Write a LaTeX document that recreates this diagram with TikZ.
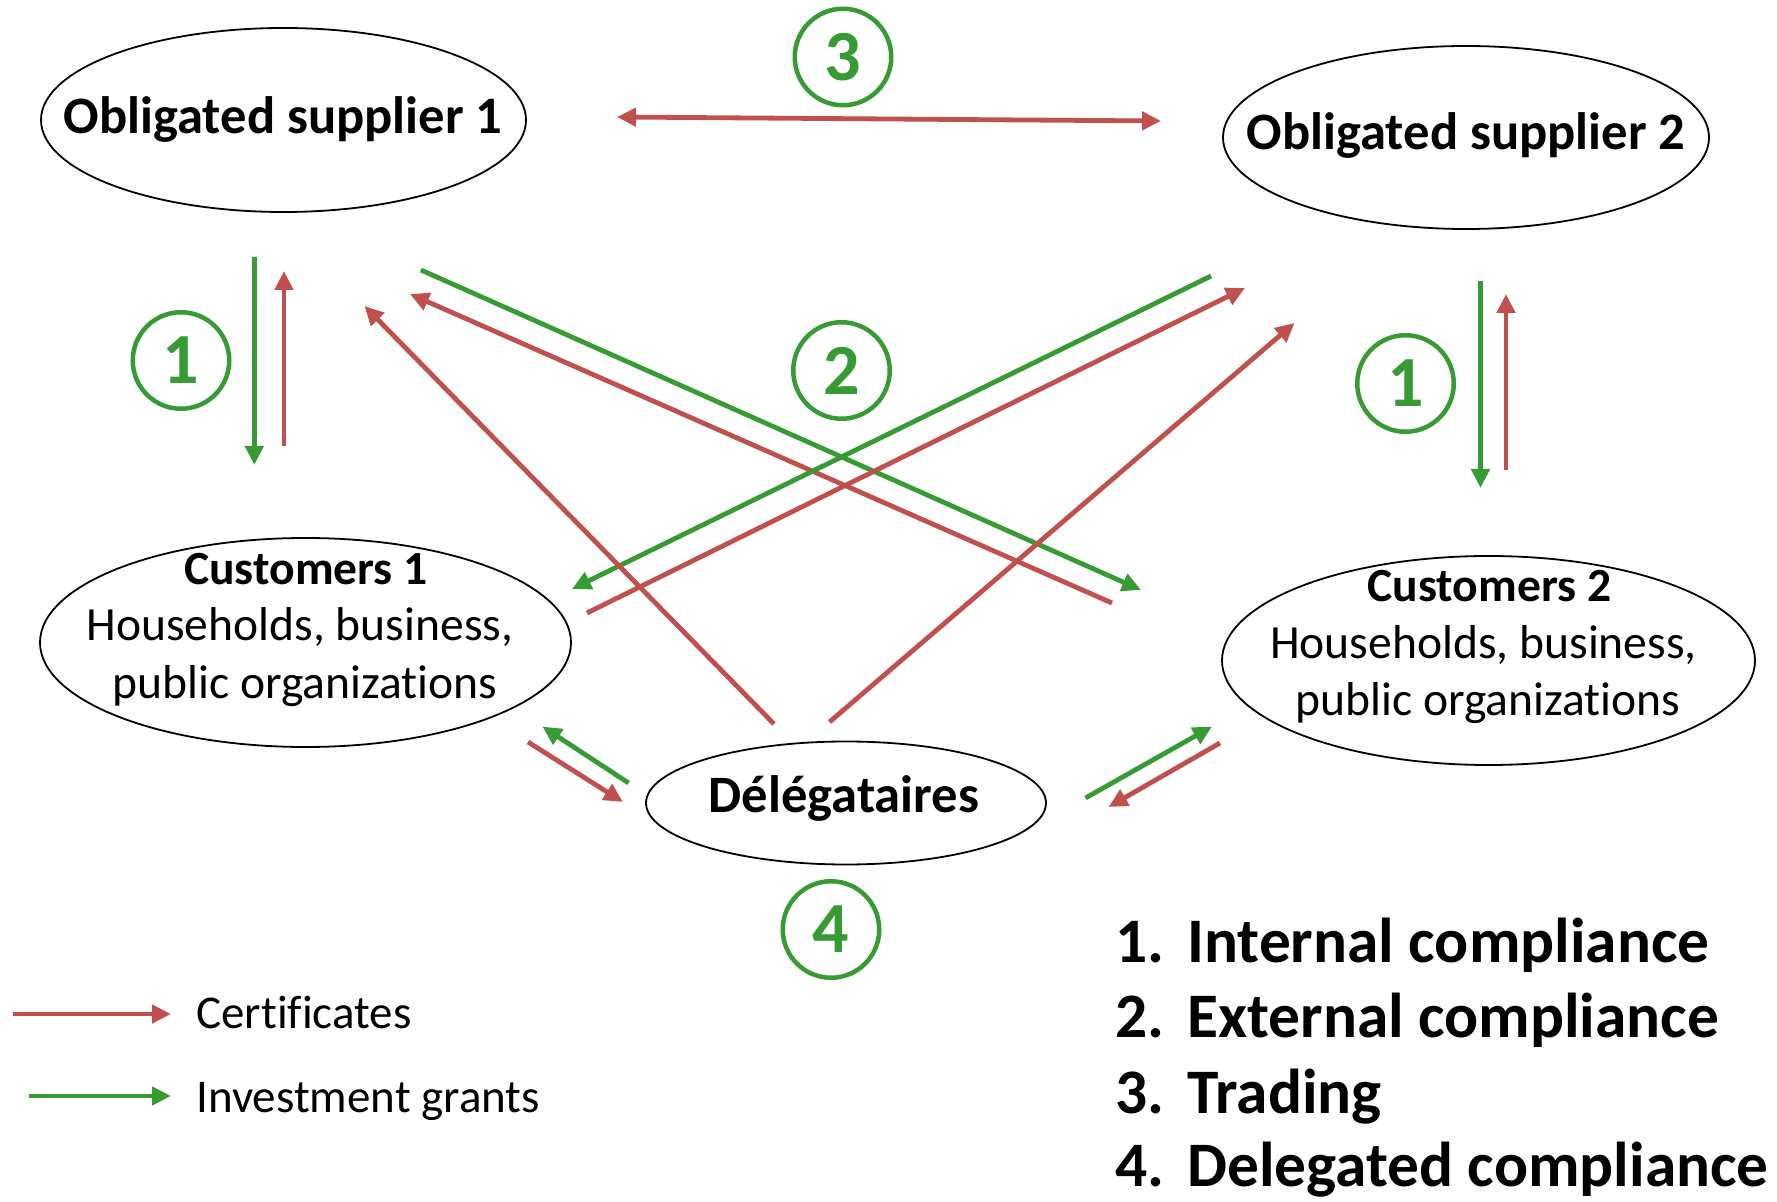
\documentclass[tikz,border=0pt]{standalone}
\usepackage{fontspec}
\setmainfont{Carlito}[Ligatures=NoCommon]
\usetikzlibrary{arrows.meta,shapes.geometric}
\definecolor{certred}{RGB}{192,80,77}
\definecolor{grantgreen}{RGB}{53,155,50}

\begin{document}
\begin{tikzpicture}[x=0.5pt,y=-0.5pt,
  party/.style={draw=black, line width=0.9pt, ellipse, inner sep=0pt},
  title/.style={font=\fontsize{26.3}{30}\selectfont\bfseries, anchor=base, inner sep=0pt},
  custhead/.style={font=\fontsize{23.8}{28}\selectfont\bfseries, anchor=base, inner sep=0pt},
  custline/.style={font=\fontsize{23.8}{28}\selectfont, anchor=base, inner sep=0pt},
  legtext/.style={font=\fontsize{23.5}{28}\selectfont, anchor=base west, inner sep=0pt},
  listitem/.style={font=\fontsize{31.7}{36}\selectfont\bfseries, anchor=base west, inner sep=0pt},
  badge/.style={circle, draw=grantgreen, line width=2.25pt, minimum size=48.25pt, inner sep=0pt,
    text=grantgreen, font=\fontsize{36}{40}\selectfont\bfseries},
  flow/.style={line width=2.4pt, -{Triangle[length=9.5pt,width=9pt]}},
  cert/.style={flow, draw=certred, fill=certred},
  grant/.style={flow, draw=grantgreen, fill=grantgreen},
]
\useasboundingbox (0,0) rectangle (1777,1202);

% parties
\node[party, minimum width=242.5pt, minimum height=92pt] (os1) at (283.5,120) {};
\node[party, minimum width=243pt, minimum height=91.5pt] (os2) at (1466,137.5) {};
\node[party, minimum width=265.5pt, minimum height=104.5pt] (cu1) at (305.5,642.5) {};
\node[party, minimum width=266.5pt, minimum height=104.5pt] (cu2) at (1488.5,660.5) {};
\node[party, minimum width=200pt, minimum height=61.5pt] (del) at (846,803) {};

\node[title] (os1t) at (283,134) {Obligated supplier 1};
\node[title] (os2t) at (1466,150) {Obligated supplier 2};
\node[title] (delt) at (844,812) {Délégataires};

\node[custhead] (cu1a) at (306,585) {Customers 1};
\node[custline] (cu1b) at (300,641) {Households, business,};
\node[custline] (cu1c) at (305,698) {public organizations};
\node[custhead] (cu2a) at (1489.5,602) {Customers 2};
\node[custline] (cu2b) at (1483.5,659) {Households, business,};
\node[custline] (cu2c) at (1488,716) {public organizations};

% numbered badges
\node[badge] (b3) at (843,57) {3};
\node[badge] (b1l) at (181,360.5) {1};
\node[badge] (b2) at (841.5,370.5) {2};
\node[badge] (b1r) at (1405.5,383.5) {1};
\node[badge] (b4) at (831,929.5) {4};

% arrow end points
\coordinate (v1a) at (254.3,257);  \coordinate (v1b) at (254.3,465);
\coordinate (v1c) at (284,446);    \coordinate (v1d) at (284,271);
\coordinate (v2a) at (1480.5,281); \coordinate (v2b) at (1480.5,488);
\coordinate (v2c) at (1506,470);   \coordinate (v2d) at (1506,294);
\coordinate (tl) at (617,117);     \coordinate (tr) at (1161,121);
\coordinate (g1a) at (421,270);    \coordinate (g1b) at (1141,590);
\coordinate (r1a) at (1112,603);   \coordinate (r1b) at (410,294);
\coordinate (r2a) at (774,724);    \coordinate (r2b) at (364.5,306);
\coordinate (g2a) at (1211,276);   \coordinate (g2b) at (572,589);
\coordinate (r3a) at (587,613);    \coordinate (r3b) at (1245,288);
\coordinate (r4a) at (829.5,722);  \coordinate (r4b) at (1294.5,323);
\coordinate (g3a) at (628.6,783);  \coordinate (g3b) at (542.5,726.6);
\coordinate (r5a) at (528,742);    \coordinate (r5b) at (623,802);
\coordinate (g4a) at (1085.5,798); \coordinate (g4b) at (1212,726.6);
\coordinate (r6a) at (1220,743);   \coordinate (r6b) at (1108.5,807);

% internal compliance
\draw[grant] (v1a) -- (v1b);
\draw[cert] (v1c) -- (v1d);
\draw[grant] (v2a) -- (v2b);
\draw[cert] (v2c) -- (v2d);
% trading
\draw[cert, {Triangle[length=9.5pt,width=9pt]}-{Triangle[length=9.5pt,width=9pt]}] (tl) -- (tr);
% external compliance
\draw[grant] (g1a) -- (g1b);
\draw[cert] (r1a) -- (r1b);
\draw[grant] (g2a) -- (g2b);
\draw[cert] (r3a) -- (r3b);
\draw[cert] (r2a) -- (r2b);
\draw[cert] (r4a) -- (r4b);
% delegated compliance
\draw[grant] (g3a) -- (g3b);
\draw[cert] (r5a) -- (r5b);
\draw[grant] (g4a) -- (g4b);
\draw[cert] (r6a) -- (r6b);

% legend
\coordinate (lc1) at (12.6,1014); \coordinate (lc2) at (171,1014);
\coordinate (lg1) at (29,1096);   \coordinate (lg2) at (171,1096);
\draw[cert] (lc1) -- (lc2);
\draw[grant] (lg1) -- (lg2);
\node[legtext] (legc) at (196,1028) {Certificates};
\node[legtext] (legg) at (196,1112) {Investment grants};

% list of mechanisms
\node[listitem] (l1) at (1115,962) {\makebox[36pt][l]{1.}Internal compliance};
\node[listitem] (l2) at (1115,1037.5) {\makebox[36pt][l]{2.}External compliance};
\node[listitem] (l3) at (1115,1113) {\makebox[36pt][l]{3.}Trading};
\node[listitem] (l4) at (1115,1186) {\makebox[36pt][l]{4.}Delegated compliance};
\end{tikzpicture}
\end{document}
